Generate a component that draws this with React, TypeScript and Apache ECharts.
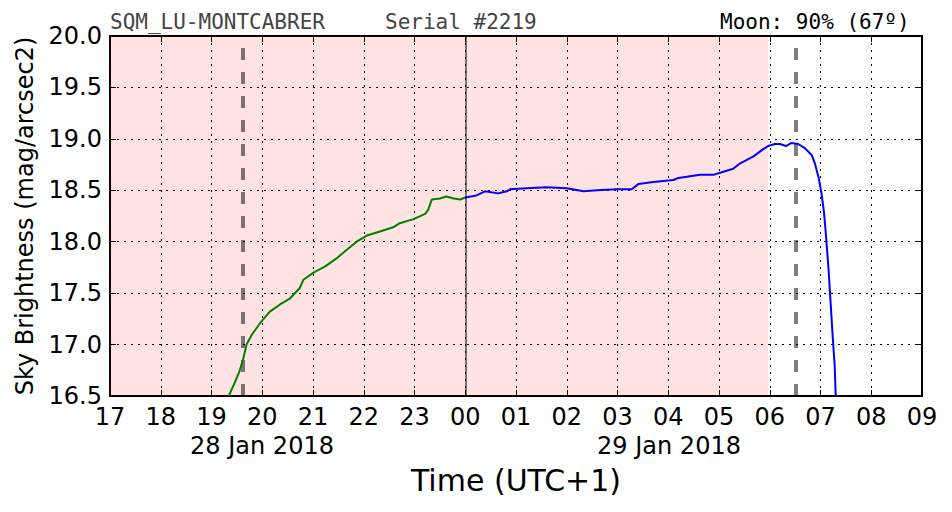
import React, { useEffect, useRef } from "react";
import * as echarts from "echarts";

const xTicks = [17, 18, 19, 20, 21, 22, 23, 24, 25, 26, 27, 28, 29, 30, 31, 32, 33];
const yTicks = [16.5, 17.0, 17.5, 18.0, 18.5, 19.0, 19.5, 20.0];

const greenHours = [19.34, 19.45, 19.55, 19.62, 19.69, 19.8, 19.96, 20.15, 20.35, 20.55, 20.74, 20.81, 21.01, 21.24, 21.47, 21.66, 21.86, 22.06, 22.32, 22.58, 22.71, 22.98, 23.21, 23.27, 23.34, 23.5, 23.63, 23.77, 23.9, 24.0];
const greenMag = [16.5, 16.62, 16.74, 16.85, 17.0, 17.1, 17.21, 17.32, 17.39, 17.45, 17.55, 17.63, 17.7, 17.76, 17.84, 17.92, 18.0, 18.06, 18.1, 18.14, 18.18, 18.22, 18.27, 18.31, 18.41, 18.42, 18.44, 18.42, 18.41, 18.43];

const blueHours = [24.0, 24.22, 24.39, 24.65, 24.82, 24.88, 25.21, 25.6, 26.0, 26.33, 26.6, 26.98, 27.28, 27.41, 27.71, 28.1, 28.2, 28.63, 28.89, 29.02, 29.28, 29.41, 29.68, 29.87, 29.97, 30.1, 30.2, 30.32, 30.43, 30.56, 30.69, 30.83, 30.89, 30.96, 31.02, 31.07, 31.11, 31.16, 31.2, 31.24, 31.28, 31.3];
const blueMag = [18.43, 18.45, 18.49, 18.47, 18.49, 18.51, 18.52, 18.53, 18.52, 18.49, 18.5, 18.51, 18.51, 18.56, 18.58, 18.6, 18.62, 18.65, 18.65, 18.67, 18.71, 18.76, 18.83, 18.9, 18.93, 18.95, 18.95, 18.93, 18.96, 18.95, 18.91, 18.84, 18.76, 18.63, 18.47, 18.28, 18.05, 17.72, 17.4, 17.08, 16.79, 16.5];

const nightSpan = [17, 29.97];
const sunMoonLines = [19.62, 30.52];
const midnight = 24;

const dateLabels = ["28 Jan 2018", "29 Jan 2018"];
const titleLeft = "SQM_LU-MONTCABRER";
const titleSerial = "Serial #2219";
const titleMoon = "Moon: 90% (67º)";

const FONT = "DejaVu Sans";
const MONO = "DejaVu Sans Mono";

export default function App() {
  const ref = useRef<HTMLDivElement>(null);
  useEffect(() => {
    if (!ref.current) return;
    const chart = echarts.init(ref.current, undefined, { renderer: "svg" });
    const zip = (a: number[], b: number[]) => a.map((v, i) => [v, b[i]]);
    const fmtX = (v: number) => String(v % 24).padStart(2, "0");
    const axisCommon = {
      min: xTicks[0],
      max: xTicks[xTicks.length - 1],
      interval: 1,
    };
    const yCommon = {
      min: yTicks[0],
      max: yTicks[yTicks.length - 1],
      interval: 0.5,
    };
    chart.setOption({
      animation: false,
      backgroundColor: "#ffffff",
      grid: { left: 110, right: 30, top: 36, bottom: 116 },
      xAxis: [
        {
          type: "value",
          ...axisCommon,
          position: "bottom",
          name: "Time (UTC+1)",
          nameLocation: "middle",
          nameGap: 69,
          nameTextStyle: { fontFamily: FONT, fontSize: 30, color: "#000" },
          axisLine: { show: true, onZero: false, lineStyle: { color: "#000", width: 2 } },
          axisTick: { show: true, inside: true, length: 6, lineStyle: { color: "#000", width: 1 } },
          axisLabel: { formatter: fmtX, fontFamily: FONT, fontSize: 24, color: "#000", margin: 9 },
          splitLine: { show: true, lineStyle: { color: "#000", width: 1, type: [2, 5] } },
        },
        {
          type: "value",
          ...axisCommon,
          position: "top",
          axisLine: { show: true, onZero: false, lineStyle: { color: "#000", width: 2 } },
          axisTick: { show: true, inside: true, length: 6, lineStyle: { color: "#000", width: 1 } },
          axisLabel: { show: false },
          splitLine: { show: false },
        },
      ],
      yAxis: [
        {
          type: "value",
          ...yCommon,
          name: "Sky Brightness (mag/arcsec2)",
          nameLocation: "middle",
          nameGap: 73,
          nameTextStyle: { fontFamily: FONT, fontSize: 24, color: "#000" },
          axisLine: { show: true, onZero: false, lineStyle: { color: "#000", width: 2 } },
          axisTick: { show: true, inside: true, length: 6, lineStyle: { color: "#000", width: 1 } },
          axisLabel: { formatter: (v: number) => v.toFixed(1), fontFamily: FONT, fontSize: 24, color: "#000", margin: 8 },
          splitLine: { show: true, lineStyle: { color: "#000", width: 1, type: [2, 5] } },
        },
        {
          type: "value",
          ...yCommon,
          position: "right",
          axisLine: { show: true, onZero: false, lineStyle: { color: "#000", width: 2 } },
          axisTick: { show: true, inside: true, length: 6, lineStyle: { color: "#000", width: 1 } },
          axisLabel: { show: false },
          splitLine: { show: false },
        },
      ],
      series: [
        {
          type: "line",
          data: zip(greenHours, greenMag),
          showSymbol: false,
          lineStyle: { color: "#008000", width: 2 },
          z: 5,
          markArea: {
            silent: true,
            itemStyle: { color: "rgba(255,0,0,0.11)" },
            data: [[{ xAxis: nightSpan[0] }, { xAxis: nightSpan[1] }]],
          },
          markLine: {
            silent: true,
            symbol: "none",
            label: { show: false },
            data: [
              ...sunMoonLines.map((x) => ({
                xAxis: x,
                lineStyle: { color: "rgba(0,0,0,0.5)", width: 4, type: [12, 12] },
              })),
              { xAxis: midnight, lineStyle: { color: "rgba(0,0,0,0.5)", width: 2, type: "solid" } },
            ],
          },
        },
        {
          type: "line",
          data: zip(blueHours, blueMag),
          showSymbol: false,
          lineStyle: { color: "#0000ff", width: 2 },
          z: 5,
        },
      ],
      graphic: [
        { type: "text", left: 110, top: 11, style: { text: titleLeft, fontFamily: MONO, fontSize: 21, fill: "#444" } },
        { type: "text", left: 385, top: 11, style: { text: titleSerial, fontFamily: MONO, fontSize: 21, fill: "#444" } },
        { type: "text", left: 720, top: 11, style: { text: titleMoon, fontFamily: MONO, fontSize: 21, fill: "#000" } },
        { type: "text", x: 262, y: 446, style: { text: dateLabels[0], fontFamily: FONT, fontSize: 24, fill: "#000", align: "center", verticalAlign: "middle" } },
        { type: "text", x: 669, y: 446, style: { text: dateLabels[1], fontFamily: FONT, fontSize: 24, fill: "#000", align: "center", verticalAlign: "middle" } },
      ],
    });
    return () => chart.dispose();
  }, []);
  return (
    <div
      ref={ref}
      style={{ position: "fixed", left: 0, top: 0, width: 952, height: 512 }}
    />
  );
}
